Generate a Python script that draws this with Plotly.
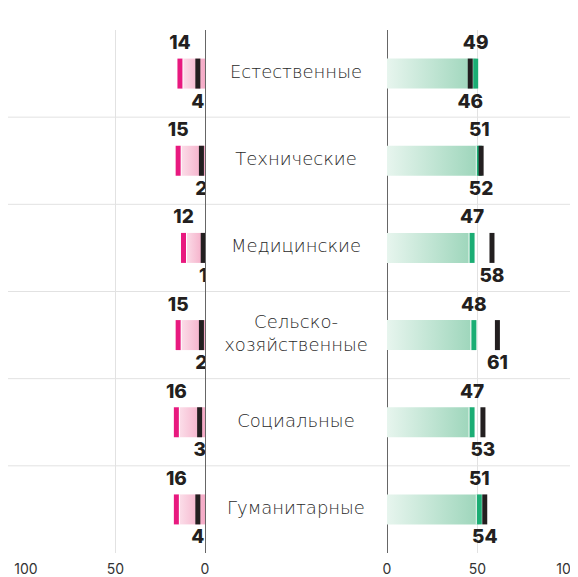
import plotly.graph_objects as go

# data
categories = ["Естественные", "Технические", "Медицинские",
              "Сельско-<br>хозяйственные", "Социальные", "Гуманитарные"]
left_bar = [14, 15, 12, 15, 16, 16]     # pink bars
left_mark = [4, 2, 1, 2, 3, 4]          # black marks, left side
right_bar = [49, 51, 47, 48, 47, 51]    # green bars
right_mark = [46, 52, 58, 61, 53, 54]   # black marks, right side
ticks = [0, 50, 100]

PINK = "#e8197f"
PINK_SCALE = [[0, "#fce4ed"], [1, "#f4a9c5"]]
GREEN = "#1bad74"
GREEN_SCALE = [[0, "#e7f5ee"], [1, "#9cd5ba"]]
BLACK = "#231f20"
H = 0.172         # half bar height (row units)
OFF = 0.335       # label offset from row centre
W, HGT = 578, 577

rows = list(range(len(categories)))
fig = go.Figure()


def ticks_at(values):
    xs, ys = [], []
    for i, v in enumerate(values):
        xs += [v, v, None]
        ys += [i - H, i + H, None]
    return xs, ys


def add_side(xa, bars, marks, color, scale):
    for i, v in enumerate(bars):
        fig.add_trace(go.Scatter(
            x=[0, v, v, 0, 0], y=[i - H, i - H, i + H, i + H, i - H],
            xaxis=xa, yaxis="y", mode="lines", line=dict(width=0),
            fill="toself", fillcolor=scale[1][1],
            fillgradient=dict(type="horizontal", colorscale=scale),
            hoverinfo="skip", showlegend=False))
    bx, by = ticks_at(bars)
    fig.add_trace(go.Scatter(x=bx, y=by, xaxis=xa, yaxis="y", mode="lines",
                             line=dict(width=7, color="white"),
                             hoverinfo="skip", showlegend=False))
    fig.add_trace(go.Scatter(x=bx, y=by, xaxis=xa, yaxis="y", mode="lines",
                             line=dict(width=5, color=color),
                             hoverinfo="skip", showlegend=False))
    mx, my = ticks_at(marks)
    fig.add_trace(go.Scatter(x=mx, y=my, xaxis=xa, yaxis="y", mode="lines",
                             line=dict(width=5, color=BLACK),
                             hoverinfo="skip", showlegend=False))
    # labels
    num_font = dict(family="Inter", size=19, color=BLACK, weight=800)
    fig.add_trace(go.Scatter(
        x=bars, y=[r - OFF for r in rows], xaxis=xa, yaxis="y", mode="text",
        text=[str(v) for v in bars], textposition="middle center",
        textfont=num_font, hoverinfo="skip", showlegend=False))
    fig.add_trace(go.Scatter(
        x=marks, y=[r + OFF for r in rows], xaxis=xa, yaxis="y", mode="text",
        text=[str(v) for v in marks], textposition="middle center",
        textfont=num_font, hoverinfo="skip", showlegend=False))


add_side("x", left_bar, left_mark, PINK, PINK_SCALE)
add_side("x2", right_bar, right_mark, GREEN, GREEN_SCALE)

# category names in the middle
fig.add_trace(go.Scatter(
    x=[0.5] * len(categories), y=rows, xaxis="x3", yaxis="y", mode="text",
    text=categories, textposition="middle center",
    textfont=dict(family="DejaVu Sans", size=18, color="#2a2a2a", weight=300),
    hoverinfo="skip", showlegend=False))

# row separators
for r in rows[:-1]:
    fig.add_shape(type="line", xref="paper", x0=-0.02, x1=1, yref="y",
                  y0=r + 0.5, y1=r + 0.5, line=dict(color="#e2e2e2", width=1),
                  layer="below")

axis_common = dict(tickvals=ticks, showgrid=True, gridcolor="#e2e2e2",
                   zeroline=True, zerolinecolor="#666666", zerolinewidth=1,
                   showline=False, ticks="", fixedrange=True, automargin=False,
                   ticklabelstandoff=6,
                   tickfont=dict(family="Inter", size=14, color="#333333"))

# page body has an 8px margin, so positions are shifted by 8px
fig.update_layout(
    width=W, height=HGT,
    margin=dict(l=0, r=0, t=22, b=32),
    plot_bgcolor="white", paper_bgcolor="white",
    xaxis=dict(domain=[18 / W, 197 / W], range=[100, 0], anchor="y",
               **axis_common),
    xaxis2=dict(domain=[379 / W, 560 / W], range=[0, 100], anchor="y",
                **axis_common),
    xaxis3=dict(domain=[197 / W, 379 / W], range=[0, 1], visible=False,
                anchor="y"),
    yaxis=dict(range=[5.5, -0.5], visible=False, fixedrange=True,
               automargin=False),
)

fig.write_html("out.html")
